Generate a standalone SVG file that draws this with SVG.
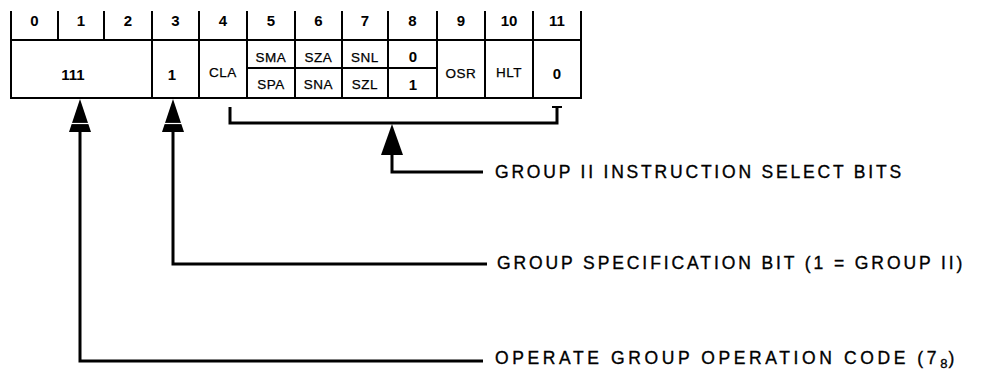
<svg xmlns="http://www.w3.org/2000/svg" width="987" height="377" viewBox="0 0 987 377">
<style>
.ln{stroke:#000;stroke-width:2;fill:none;stroke-linecap:square}
.cn{stroke:#000;stroke-width:3;fill:none;stroke-linejoin:miter}
.hd{font-family:"Liberation Sans",Arial,sans-serif;font-size:15px;font-weight:bold;text-anchor:middle}
.num{font-family:"Liberation Sans",Arial,sans-serif;font-size:15px;font-weight:bold;text-anchor:middle}
.mn{font-family:"Liberation Sans",Arial,sans-serif;font-size:13.5px;text-anchor:middle;letter-spacing:0.5px;stroke:#000;stroke-width:0.25}
.lb{font-family:"Liberation Sans",Arial,sans-serif;font-size:17.5px;stroke:#000;stroke-width:0.35}
.ah{fill:#000}
.st{stroke:#fff;stroke-width:1.2}
</style>
<rect width="987" height="377" fill="#fff"/>
<g id="word">
<path class="ln" d="M11 12V98H581V12M11 40H581M58 12V40M104 12V40M152 12V98M199 12V98M247 12V98M295 12V98M342 12V98M388 12V98M437 12V98M485 12V98M533 12V98M247 68H437"/>
<g class="hd">
<text x="34.5" y="26">0</text><text x="81" y="26">1</text><text x="128" y="26">2</text><text x="175.5" y="26">3</text><text x="223" y="26">4</text><text x="271" y="26">5</text><text x="318.5" y="26">6</text><text x="365" y="26">7</text><text x="412.5" y="26">8</text><text x="461" y="26">9</text><text x="509" y="26">10</text><text x="557" y="26">11</text>
</g>
<g class="num"><text x="73" y="80">111</text><text x="172" y="80">1</text><text x="413" y="62">0</text><text x="413" y="90">1</text><text x="557" y="79">0</text></g>
<g class="mn">
<text x="223" y="77">CLA</text>
<text x="271" y="62">SMA</text><text x="271" y="89">SPA</text>
<text x="318.5" y="62">SZA</text><text x="318.5" y="89">SNA</text>
<text x="365" y="62">SNL</text><text x="365" y="89">SZL</text>
<text x="461" y="78">OSR</text><text x="509" y="77">HLT</text>
</g>
</g>
<g id="bracket">
<path class="cn" d="M230 107V123H557V107"/>
<path class="ln" d="M553 107H561"/>
</g>
<g id="connectors">
<path class="cn" d="M392 150V172H483"/>
<polygon class="ah" points="392,124 381,155 403,155"/>
<path class="cn" d="M173 128V264H487"/>
<polygon class="ah" points="173,99 162,132 184,132"/>
<line class="st" x1="160" y1="123.5" x2="186" y2="123.5"/>
<path class="cn" d="M80 128V361H483"/>
<polygon class="ah" points="80,99 69,132 91,132"/>
<line class="st" x1="67" y1="123.5" x2="93" y2="123.5"/>
</g>
<g id="label-select"><text class="lb" x="495" y="178" style="letter-spacing:2.8px">GROUP II INSTRUCTION SELECT BITS</text></g>
<g id="label-spec"><text class="lb" x="497" y="269" style="letter-spacing:2.9px">GROUP SPECIFICATION BIT (1 = GROUP II)</text></g>
<g id="label-opcode"><text class="lb" x="495" y="364" style="letter-spacing:3.6px">OPERATE GROUP OPERATION CODE (7<tspan dy="4" font-size="13" style="letter-spacing:1px">8</tspan><tspan dy="-4">)</tspan></text></g>
</svg>
